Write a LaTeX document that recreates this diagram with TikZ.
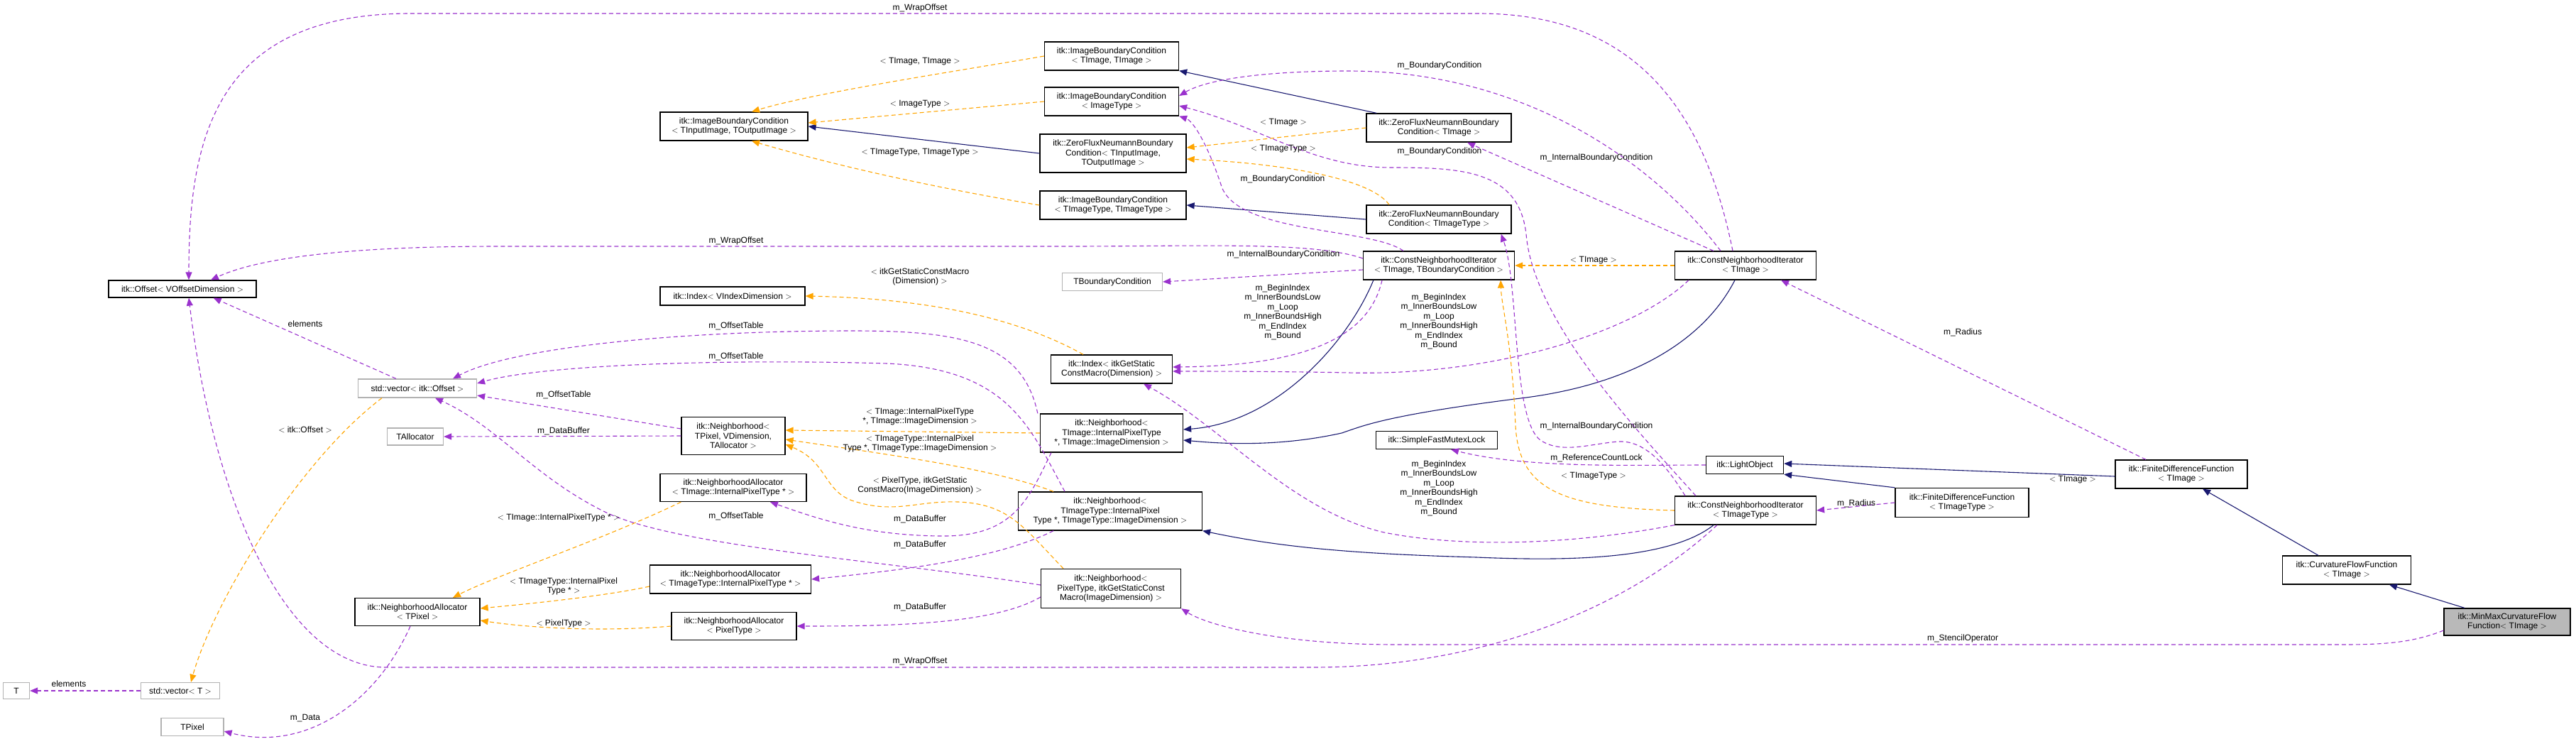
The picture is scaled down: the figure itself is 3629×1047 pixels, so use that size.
\documentclass[tikz,border=0pt]{standalone}
\usepackage{fontspec}
\setmainfont{Liberation Sans}
\usetikzlibrary{arrows.meta}
\definecolor{navy}{HTML}{191970}
\definecolor{purp}{HTML}{9A32CD}
\definecolor{orng}{HTML}{FFA500}
\begin{document}
\begin{tikzpicture}[x=1pt,y=-1pt,
  every node/.style={font=\fontsize{12}{13.5}\selectfont, align=center, inner sep=1pt},
  box/.style={draw=black, line width=1.3pt, fill=white, inner sep=2pt},
  gbox/.style={draw=gray!60, line width=1.3pt, fill=white, inner sep=2pt},
  inh/.style={draw=navy, line width=1.1pt, -{Triangle[length=11pt,width=9pt]}},
  tmpl/.style={draw=orng, line width=1.1pt, dash pattern=on 6pt off 4pt, -{Triangle[length=11pt,width=9pt]}},
  use/.style={draw=purp, line width=1.1pt, dash pattern=on 6pt off 4pt, -{Triangle[length=11pt,width=9pt]}},
  lbl/.style={fill=none}]
\useasboundingbox (0,0) rectangle (3629,1047);
\def\B#1#2#3#4#5#6{\node[#1, minimum width=#4pt, minimum height=#5pt] (#2) at (#3) {#6};}
\B{box}{off}{257,407}{208}{24}{itk::Offset$<$ VOffsetDimension $>$}
\B{gbox}{vecoff}{588,547}{167}{26}{std::vector$<$ itk::Offset $>$}
\B{gbox}{talloc}{585,615}{79}{24}{TAllocator}
\B{box}{naTP}{588,862}{176}{39}{itk::NeighborhoodAllocator\\$<$ TPixel $>$}
\B{gbox}{T}{23,973}{37}{23}{T}
\B{gbox}{vecT}{254,973}{111}{23}{std::vector$<$ T $>$}
\B{gbox}{tpix}{271,1024}{88}{25}{TPixel}
\B{box}{ibcIO}{1034,178}{208}{40}{itk::ImageBoundaryCondition\\$<$ TInputImage, TOutputImage $>$}
\B{box}{ibcII}{1566,79}{189}{40}{itk::ImageBoundaryCondition\\$<$ TImage, TImage $>$}
\B{box}{ibcIT}{1566,143}{189}{40}{itk::ImageBoundaryCondition\\$<$ ImageType $>$}
\B{box}{zfnIO}{1568,216}{206}{54}{itk::ZeroFluxNeumannBoundary\\Condition$<$ TInputImage,\\ TOutputImage $>$}
\B{box}{ibcTT}{1568,289}{206}{40}{itk::ImageBoundaryCondition\\$<$ TImageType, TImageType $>$}
\B{box}{zfnI}{2027,180}{204}{40}{itk::ZeroFluxNeumannBoundary\\Condition$<$ TImage $>$}
\B{box}{zfnT}{2027,309}{204}{40}{itk::ZeroFluxNeumannBoundary\\Condition$<$ TImageType $>$}
\B{box}{cniIB}{2027,374}{213}{40}{itk::ConstNeighborhoodIterator\\$<$ TImage, TBoundaryCondition $>$}
\B{gbox}{tbc}{1567,397}{141}{25}{TBoundaryCondition}
\B{box}{idxV}{1032,417}{204}{26}{itk::Index$<$ VIndexDimension $>$}
\B{box}{cniI}{2459,374}{199}{40}{itk::ConstNeighborhoodIterator\\$<$ TImage $>$}
\B{box}{idxG}{1566,520}{171}{40}{itk::Index$<$ itkGetStatic\\ConstMacro(Dimension) $>$}
\B{box}{nbTP}{1033,614}{146}{53}{itk::Neighborhood$<$\\ TPixel, VDimension,\\ TAllocator $>$}
\B{box}{nbTI}{1566,610}{201}{54}{itk::Neighborhood$<$\\ TImage::InternalPixelType\\ *, TImage::ImageDimension $>$}
\B{box}{naTI}{1033,687}{206}{39}{itk::NeighborhoodAllocator\\$<$ TImage::InternalPixelType * $>$}
\B{box}{nbTT}{1564,720}{259}{54}{itk::Neighborhood$<$\\ TImageType::InternalPixel\\Type *, TImageType::ImageDimension $>$}
\B{box}{naTT}{1029,816}{227}{40}{itk::NeighborhoodAllocator\\$<$ TImageType::InternalPixelType * $>$}
\B{box}{nbPT}{1565,829}{197}{55}{itk::Neighborhood$<$\\ PixelType, itkGetStaticConst\\Macro(ImageDimension) $>$}
\B{box}{naPT}{1034,882}{176}{39}{itk::NeighborhoodAllocator\\$<$ PixelType $>$}
\B{box}{sfml}{2024,620}{171}{25}{itk::SimpleFastMutexLock}
\B{box}{lo}{2458,655}{109}{25}{itk::LightObject}
\B{box}{cniT}{2459,719}{199}{40}{itk::ConstNeighborhoodIterator\\$<$ TImageType $>$}
\B{box}{fdfT}{2764,708}{188}{41}{itk::FiniteDifferenceFunction\\$<$ TImageType $>$}
\B{box}{fdfI}{3073,668}{186}{40}{itk::FiniteDifferenceFunction\\$<$ TImage $>$}
\B{box}{cff}{3306,803}{181}{40}{itk::CurvatureFlowFunction\\$<$ TImage $>$}
\node[box, fill=gray!55, minimum width=178pt, minimum height=38pt] (mm) at (3532,876) {itk::MinMaxCurvatureFlow\\Function$<$ TImage $>$};

\begin{scope}[on background layer/.try]
% inheritance
\draw[inh] (zfnIO.west) -- (ibcIO.east);
\draw[inh] ([xshift=15pt]zfnI.north west) -- (ibcII.south east);
\draw[inh] (zfnT.west) -- (ibcTT.east);
\draw[inh] ([xshift=15pt]cniIB.south west) .. controls (1900,480) and (1800,595) .. ([yshift=5pt]nbTI.east);
\draw[inh] ([xshift=-15pt]cniI.south) .. controls (2400,480) and (2300,540) .. (2150,560) .. controls (1950,585) and (1920,600) .. (1890,610) .. controls (1800,630) and (1720,625) .. ([yshift=-10pt]nbTI.east);
\draw[inh] ([xshift=-45pt]cniT.south) .. controls (2350,790) and (2200,790) .. (2080,785) .. controls (1900,780) and (1800,770) .. (nbTT.south east);
\draw[inh] ([yshift=-3pt]fdfI.west) -- ([yshift=2pt]lo.east);
\draw[inh] (fdfT.north west) -- (lo.south east);
\draw[inh] ([xshift=-40pt]cff.north) -- ([xshift=30pt]fdfI.south);
\draw[inh] ([xshift=-60pt]mm.north) -- ([xshift=60pt]cff.south);
% templates
\draw[tmpl] (ibcII.west) .. controls (1350,100) and (1150,130) .. ([xshift=25pt]ibcIO.north);
\draw[tmpl] (ibcIT.west) -- ([yshift=5pt]ibcIO.east);
\draw[tmpl] (ibcTT.west) .. controls (1350,270) and (1200,240) .. ([xshift=25pt]ibcIO.south);
\draw[tmpl] (zfnI.west) -- ([yshift=8pt]zfnIO.east);
\draw[tmpl] ([xshift=-70pt]zfnT.north) .. controls (1930,250) and (1800,230) .. ([yshift=-8pt]zfnIO.east);
\draw[tmpl] (cniI.west) -- (cniIB.east);
\draw[tmpl] (cniT.west) .. controls (2200,715) and (2140,690) .. (2135,600) .. controls (2130,480) and (2115,430) .. ([xshift=-20pt]cniIB.south east);
\draw[tmpl] ([xshift=-40pt]idxG.north) .. controls (1420,440) and (1280,420) .. (idxV.east);
\draw[tmpl] (nbTI.west) -- ([yshift=8pt]nbTP.east);
\draw[tmpl] ([xshift=-80pt]nbTT.north) .. controls (1400,660) and (1250,640) .. ([yshift=-5pt]nbTP.east);
\draw[tmpl] ([xshift=-67pt]nbPT.north) .. controls (1440,740) and (1420,710) .. (1350,707) .. controls (1290,705) and (1260,725) .. (1200,705) .. controls (1160,690) and (1165,650) .. ([yshift=-12pt]nbTP.east);
\draw[tmpl] ([xshift=30pt]naTI.south west) .. controls (850,760) and (700,810) .. ([xshift=50pt]naTP.north);
\draw[tmpl] ([yshift=-10pt]naTT.west) .. controls (850,840) and (750,850) .. ([yshift=5pt]naTP.east);
\draw[tmpl] (naPT.west) .. controls (850,890) and (750,885) .. ([yshift=-12pt]naTP.east);
\draw[tmpl] ([xshift=-50pt]vecoff.south) .. controls (420,650) and (300,850) .. ([xshift=15pt]vecT.north);
% usage
\draw[use] ([xshift=-18pt]cniI.north) .. controls (2400,150) and (2300,19) .. (2083,19) -- (578,19) .. controls (300,19) and (266,200) .. ([xshift=9pt]off.north);
\draw[use] ([yshift=10pt]cniIB.west) .. controls (1850,340) and (1700,347) .. (1500,347) -- (700,347) .. controls (450,347) and (350,370) .. ([xshift=40pt]off.north);
\draw[use] ([xshift=-40pt]cniT.south) .. controls (2300,850) and (2100,940) .. (1850,940) -- (544,940) .. controls (400,940) and (300,700) .. ([xshift=9pt]off.south);
\draw[use] ([xshift=-30pt]vecoff.north) -- ([xshift=-61pt]off.south east);
\draw[use] (vecT.west) -- (T.east);
\draw[use] ([xshift=-10pt]naTP.south) .. controls (530,990) and (430,1060) .. ([yshift=-6pt]tpix.east);
\draw[use] ([yshift=10pt]nbTP.west) -- ([yshift=-10pt]vecoff.east);
\draw[use] (nbTP.west) -- (talloc.east);
\draw[use] ([xshift=-3pt]nbTI.north west) .. controls (1440,480) and (1350,466) .. (1200,466) .. controls (950,466) and (720,490) .. ([xshift=50pt]vecoff.north);
\draw[use] ([xshift=-64pt]nbTT.north) .. controls (1450,600) and (1420,520) .. (1250,512) .. controls (1000,505) and (760,515) .. ([yshift=7pt]vecoff.east);
\draw[use] ([yshift=5pt]nbPT.west) .. controls (1250,790) and (950,770) .. (850,720) .. controls (750,670) and (700,600) .. ([xshift=25pt]vecoff.south);
\draw[use] ([xshift=-85pt]nbTI.south) .. controls (1450,700) and (1430,755) .. (1330,755) .. controls (1220,755) and (1150,730) .. ([xshift=52pt]naTI.south);
\draw[use] ([xshift=-80pt]nbTT.south) .. controls (1400,790) and (1250,805) .. (naTT.east);
\draw[use] ([yshift=-12pt]nbPT.west) .. controls (1400,880) and (1250,882) .. (naPT.east);
\draw[use] ([yshift=-12pt]mm.west) .. controls (3400,905) and (3360,908) .. (3300,908) -- (1967,908) .. controls (1800,908) and (1700,880) .. (nbPT.south east);
\draw[use] ([yshift=-6pt]cniIB.west) -- (tbc.east);
\draw[use] ([xshift=-50pt]cniIB.north) .. controls (1930,320) and (1740,330) .. (1720,260) .. controls (1700,200) and (1680,170) .. (ibcIT.south east);
\draw[use] ([xshift=-35pt]cniI.north) .. controls (2330,230) and (2150,100) .. (1900,100) .. controls (1780,100) and (1700,112) .. ([yshift=8pt]ibcIT.east);
\draw[use] ([xshift=-70pt]cniT.north) .. controls (2300,600) and (2160,450) .. (2150,330) .. controls (2140,240) and (2060,236) .. (1960,236) .. controls (1850,236) and (1780,180) .. ([yshift=-6pt]ibcIT.east);
\draw[use] ([xshift=-45pt]cniI.north) -- ([xshift=40pt]zfnI.south);
\draw[use] ([xshift=-85pt]cniT.north) .. controls (2350,660) and (2320,620) .. (2280,622) .. controls (2240,625) and (2200,640) .. (2170,620) .. controls (2130,590) and (2140,400) .. ([xshift=-15pt]zfnT.south east);
\draw[use] (lo.west) .. controls (2300,655) and (2150,660) .. ([xshift=20pt]sfml.south);
\draw[use] (fdfT.west) -- (cniT.east);
\draw[use] ([xshift=-50pt]fdfI.north) -- ([xshift=50pt]cniI.south);
\draw[use] ([xshift=-80pt]cniIB.south) .. controls (1930,470) and (1850,515) .. ([yshift=3pt]idxG.east);
\draw[use] ([xshift=-80pt]cniI.south) .. controls (2300,470) and (2100,530) .. (1900,525) .. controls (1800,523) and (1700,523) .. ([yshift=-3pt]idxG.east);
\draw[use] (cniT.south west) .. controls (2200,770) and (2050,770) .. (1950,750) .. controls (1820,720) and (1720,600) .. ([xshift=45pt]idxG.south);
\end{scope}

% labels
\node[lbl] (l1) at (1296,11) {m\_WrapOffset};
\node[lbl] (l2) at (1037,339) {m\_WrapOffset};
\node[lbl] (l3) at (1296,931) {m\_WrapOffset};
\node[lbl] (l4) at (1296,87) {$<$ TImage, TImage $>$};
\node[lbl] (l5) at (1296,147) {$<$ ImageType $>$};
\node[lbl] (l6) at (1296,215) {$<$ TImageType, TImageType $>$};
\node[lbl] (l7) at (1808,173) {$<$ TImage $>$};
\node[lbl] (l8) at (1808,210) {$<$ TImageType $>$};
\node[lbl] (l9) at (2028,92) {m\_BoundaryCondition};
\node[lbl] (l10) at (2028,213) {m\_BoundaryCondition};
\node[lbl] (l11) at (1807,252) {m\_BoundaryCondition};
\node[lbl] (l12) at (2249,222) {m\_InternalBoundaryCondition};
\node[lbl] (l13) at (2245,367) {$<$ TImage $>$};
\node[lbl] (l14) at (1808,358) {m\_InternalBoundaryCondition};
\node[lbl] (l15) at (1296,390) {$<$ itkGetStaticConstMacro\\(Dimension) $>$};
\node[lbl] (l16) at (1807,440) {m\_BeginIndex\\m\_InnerBoundsLow\\m\_Loop\\m\_InnerBoundsHigh\\m\_EndIndex\\m\_Bound};
\node[lbl] (l17) at (2027,453) {m\_BeginIndex\\m\_InnerBoundsLow\\m\_Loop\\m\_InnerBoundsHigh\\m\_EndIndex\\m\_Bound};
\node[lbl] (l18) at (2027,688) {m\_BeginIndex\\m\_InnerBoundsLow\\m\_Loop\\m\_InnerBoundsHigh\\m\_EndIndex\\m\_Bound};
\node[lbl] (l19) at (430,456) {elements};
\node[lbl] (l20) at (97,963) {elements};
\node[lbl] (l21) at (1037,459) {m\_OffsetTable};
\node[lbl] (l22) at (1037,502) {m\_OffsetTable};
\node[lbl] (l23) at (794,556) {m\_OffsetTable};
\node[lbl] (l24) at (1037,727) {m\_OffsetTable};
\node[lbl] (l25) at (794,607) {m\_DataBuffer};
\node[lbl] (l26) at (1296,731) {m\_DataBuffer};
\node[lbl] (l27) at (1296,767) {m\_DataBuffer};
\node[lbl] (l28) at (1296,855) {m\_DataBuffer};
\node[lbl] (l29) at (1296,587) {$<$ TImage::InternalPixelType\\*, TImage::ImageDimension $>$};
\node[lbl] (l30) at (1296,625) {$<$ TImageType::InternalPixel\\Type *, TImageType::ImageDimension $>$};
\node[lbl] (l31) at (1296,684) {$<$ PixelType, itkGetStatic\\ConstMacro(ImageDimension) $>$};
\node[lbl] (l32) at (430,605) {$<$ itk::Offset $>$};
\node[lbl] (l33) at (787,729) {$<$ TImage::InternalPixelType * $>$};
\node[lbl] (l34) at (794,826) {$<$ TImageType::InternalPixel\\Type * $>$};
\node[lbl] (l35) at (794,878) {$<$ PixelType $>$};
\node[lbl] (l36) at (430,1012) {m\_Data};
\node[lbl] (l37) at (2249,600) {m\_InternalBoundaryCondition};
\node[lbl] (l38) at (2249,645) {m\_ReferenceCountLock};
\node[lbl] (l39) at (2245,671) {$<$ TImageType $>$};
\node[lbl] (l40) at (2615,709) {m\_Radius};
\node[lbl] (l41) at (2765,468) {m\_Radius};
\node[lbl] (l42) at (2920,676) {$<$ TImage $>$};
\node[lbl] (l43) at (2765,899) {m\_StencilOperator};
\end{tikzpicture}
\end{document}
